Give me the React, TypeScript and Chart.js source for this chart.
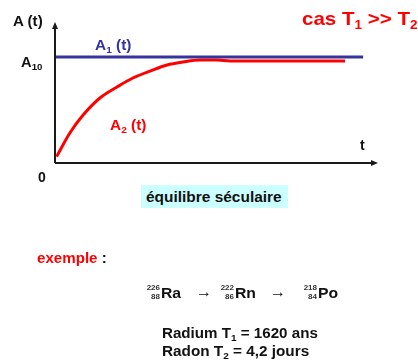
import React, { useEffect, useRef } from "react";
import { Chart, registerables } from "chart.js";

Chart.register(...registerables);

// Data (time in arbitrary units, activity relative to A10)
const timeA1 = [0.03, 9.54];
const activityA1 = [1, 1];
const timeA2 = [0.05, 0.46, 0.87, 1.39, 1.92, 2.41, 2.94, 3.47, 3.96, 4.49, 5.02, 5.42, 8.98];
const activityA2 = [0.06, 0.283, 0.452, 0.613, 0.717, 0.802, 0.867, 0.924, 0.952, 0.971, 0.971, 0.962, 0.962];
const xMax = 10;
const yMax = 1.33;

const FONT = '"Liberation Sans", Arial, sans-serif';

type TxtProps = {
  x: number;
  base: number;
  size: number;
  sx?: number;
  color?: string;
  children: React.ReactNode;
};

function Txt({ x, base, size, sx = 1, color = "#111", children }: TxtProps) {
  return (
    <span
      style={{
        position: "absolute",
        left: x,
        top: base - 0.8465 * size,
        fontFamily: FONT,
        fontWeight: 700,
        fontSize: size,
        lineHeight: 1,
        color,
        whiteSpace: "nowrap",
        transform: `scaleX(${sx})`,
        transformOrigin: "left top",
      }}
    >
      {children}
    </span>
  );
}

function Sub({ children, drop = 0.3, scale = 0.66 }: { children: React.ReactNode; drop?: number; scale?: number }) {
  return (
    <span style={{ position: "relative", top: `${drop}em`, fontSize: `${scale}em` }}>{children}</span>
  );
}

function Nuclide({ x, base, a, z, sym }: { x: number; base: number; a: string; z: string; sym: string }) {
  const small: React.CSSProperties = {
    position: "absolute",
    right: 418 - x,
    fontFamily: FONT,
    fontWeight: 700,
    fontSize: 8,
    lineHeight: 1,
    color: "#333",
  };
  return (
    <>
      <span style={{ ...small, top: base - 14 }}>{a}</span>
      <span style={{ ...small, top: base - 5 }}>{z}</span>
      <Txt x={x + 1} base={base} size={15} sx={1.05}>
        {sym}
      </Txt>
    </>
  );
}

const axesPlugin = {
  id: "arrowAxes",
  beforeDatasetsDraw(chart: any) {
    const { ctx, chartArea } = chart;
    const { left, right, top, bottom } = chartArea;
    ctx.save();
    ctx.strokeStyle = "#1a1a1a";
    ctx.fillStyle = "#1a1a1a";
    ctx.lineWidth = 2;
    ctx.beginPath();
    ctx.moveTo(left, bottom);
    ctx.lineTo(left, top + 5);
    ctx.moveTo(left, bottom);
    ctx.lineTo(right - 5, bottom);
    ctx.stroke();
    ctx.beginPath();
    ctx.moveTo(left, top);
    ctx.lineTo(left - 3, top + 7);
    ctx.lineTo(left + 3, top + 7);
    ctx.closePath();
    ctx.fill();
    ctx.beginPath();
    ctx.moveTo(right, bottom);
    ctx.lineTo(right - 7, bottom - 3);
    ctx.lineTo(right - 7, bottom + 3);
    ctx.closePath();
    ctx.fill();
    ctx.restore();
  },
};

export default function App() {
  const ref = useRef<HTMLCanvasElement | null>(null);

  useEffect(() => {
    if (!ref.current) return;
    const chart = new Chart(ref.current, {
      type: "line",
      data: {
        datasets: [
          {
            label: "A1 (t)",
            data: timeA1.map((x, i) => ({ x, y: activityA1[i] })),
            borderColor: "#34349c",
            borderWidth: 3,
            pointRadius: 0,
            fill: false,
          },
          {
            label: "A2 (t)",
            data: timeA2.map((x, i) => ({ x, y: activityA2[i] })),
            borderColor: "#ff0000",
            borderWidth: 3,
            pointRadius: 0,
            fill: false,
            cubicInterpolationMode: "monotone",
          },
        ],
      },
      options: {
        responsive: false,
        animation: false,
        layout: { padding: { left: 55, top: 22, right: 40, bottom: 198 } },
        plugins: { legend: { display: false }, tooltip: { enabled: false } },
        scales: {
          x: { type: "linear", min: 0, max: xMax, display: false },
          y: { type: "linear", min: 0, max: yMax, display: false },
        },
      },
      plugins: [axesPlugin],
    });
    return () => chart.destroy();
  }, []);

  return (
    <div style={{ position: "absolute", left: 0, top: 0, width: 418, height: 361, background: "#fff", overflow: "hidden" }}>
      <canvas ref={ref} width={418} height={361} style={{ position: "absolute", left: 0, top: 0 }} />

      <Txt x={13} base={26} size={14} sx={1.08}>A (t)</Txt>
      <Txt x={21} base={67} size={14} sx={1.05}>
        A<Sub>10</Sub>
      </Txt>
      <Txt x={95} base={50} size={14} sx={1.1} color="#34349c">
        A<Sub>1</Sub> (t)
      </Txt>
      <Txt x={110} base={130} size={14} sx={1.1} color="#ff0000">
        A<Sub>2</Sub> (t)
      </Txt>
      <Txt x={360} base={150} size={14}>t</Txt>
      <Txt x={38} base={182} size={14}>0</Txt>
      <Txt x={302} base={25} size={19} sx={1.08} color="#ff0000">
        cas T<Sub>1</Sub> &gt;&gt; T<Sub>2</Sub>
      </Txt>

      <div
        style={{
          position: "absolute",
          left: 141,
          top: 185,
          width: 147,
          height: 23,
          background: "#ccffff",
        }}
      />
      <Txt x={146} base={202} size={15} sx={1.03}>équilibre séculaire</Txt>

      <Txt x={37} base={263} size={14} sx={1.08} color="#ff0000">
        exemple <span style={{ color: "#111" }}>:</span>
      </Txt>

      <Nuclide x={160} base={298} a="226" z="88" sym="Ra" />
      <Txt x={196} base={298} size={16}>→</Txt>
      <Nuclide x={234} base={298} a="222" z="86" sym="Rn" />
      <Txt x={270} base={298} size={16}>→</Txt>
      <Nuclide x={317} base={298} a="218" z="84" sym="Po" />

      <Txt x={162} base={338} size={15} sx={1.01}>
        Radium T<Sub>1</Sub> = 1620 ans
      </Txt>
      <Txt x={162} base={356} size={15} sx={1.02}>
        Radon T<Sub>2</Sub> = 4,2 jours
      </Txt>
    </div>
  );
}
